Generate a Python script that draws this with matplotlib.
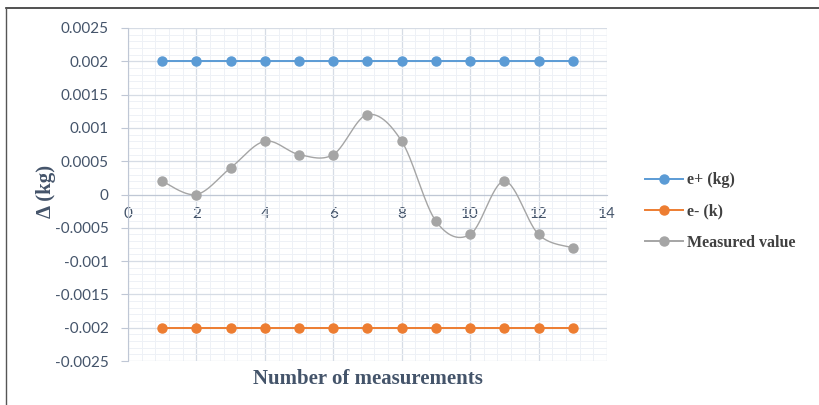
import numpy as np
import matplotlib.pyplot as plt
from matplotlib.lines import Line2D
from matplotlib.ticker import MultipleLocator

# data
n = [1, 2, 3, 4, 5, 6, 7, 8, 9, 10, 11, 12, 13]
e_plus = [0.002] * 13
e_minus = [-0.002] * 13
measured = [0.0002, 0.0, 0.0004, 0.0008, 0.0006, 0.0006, 0.0012,
            0.0008, -0.0004, -0.0006, 0.0002, -0.0006, -0.0008]


def smooth(x, y, steps=30):
    # catmull-rom style curve through the points (like excel's smoothed line)
    x = np.asarray(x, float)
    y = np.asarray(y, float)
    px = np.concatenate([[x[0]], x, [x[-1]]])
    py = np.concatenate([[y[0]], y, [y[-1]]])
    xs, ys = [], []
    t = np.linspace(0, 1, steps)
    for i in range(1, len(px) - 2):
        b0 = np.array([px[i], py[i]])
        b3 = np.array([px[i + 1], py[i + 1]])
        b1 = b0 + (np.array([px[i + 1], py[i + 1]]) - np.array([px[i - 1], py[i - 1]])) / 6
        b2 = b3 - (np.array([px[i + 2], py[i + 2]]) - np.array([px[i], py[i]])) / 6
        pts = ((1 - t) ** 3)[:, None] * b0 + (3 * (1 - t) ** 2 * t)[:, None] * b1 \
            + (3 * (1 - t) * t ** 2)[:, None] * b2 + (t ** 3)[:, None] * b3
        xs.extend(pts[:, 0])
        ys.extend(pts[:, 1])
    return xs, ys


tick_col = "#44546A"
blue, orange, gray = "#5B9BD5", "#ED7D31", "#A5A5A5"

fig = plt.figure(figsize=(8.19, 4.05), dpi=100)
ax = fig.add_axes([0.1563, 0.1086, 0.5848, 0.8223])

ax.set_xlim(0, 14)
ax.set_ylim(-0.0025, 0.0025)
ax.xaxis.set_major_locator(MultipleLocator(2))
ax.xaxis.set_minor_locator(MultipleLocator(0.4))
ax.yaxis.set_major_locator(MultipleLocator(0.0005))
ax.yaxis.set_minor_locator(MultipleLocator(0.0001))
ax.grid(which="major", color="#D6DCE5", lw=0.9)
ax.grid(which="minor", color="#EEF1F6", lw=0.7)
ax.set_axisbelow(True)

ax.plot(n, e_plus, color=blue, lw=1.4, marker="o", ms=6.5, label="e+ (kg)", zorder=3)
ax.plot(n, e_minus, color=orange, lw=1.4, marker="o", ms=6.5, label="e- (k)", zorder=3)
sx, sy = smooth(n, measured)
ax.plot(sx, sy, color=gray, lw=1.0, zorder=3)
ax.plot(n, measured, color=gray, lw=0, marker="o", ms=6.5, zorder=4)

for s in ["top", "right"]:
    ax.spines[s].set_visible(False)
ax.spines["bottom"].set_position(("data", 0))
ax.spines["bottom"].set_color("#BFC7D5")
ax.spines["left"].set_color("#BFC7D5")

yt = [-0.0025, -0.002, -0.0015, -0.001, -0.0005, 0, 0.0005, 0.001, 0.0015, 0.002, 0.0025]
ax.set_yticks(yt)
ax.set_yticklabels(["-0.0025", "-0.002", "-0.0015", "-0.001", "-0.0005", "0",
                    "0.0005", "0.001", "0.0015", "0.002", "0.0025"])
ax.tick_params(axis="both", which="major", labelsize=11, labelcolor=tick_col,
               color="#BFC7D5", length=5)
ax.tick_params(axis="y", which="major", pad=9)
ax.tick_params(axis="x", which="major", length=0, pad=9)
ax.tick_params(which="minor", length=0)
for lab in ax.get_xticklabels() + ax.get_yticklabels():
    lab.set_family("Lato")

ax.set_xlabel("Number of measurements", family="Liberation Serif", weight="bold",
              fontsize=15, color=tick_col)
ax.xaxis.set_label_coords(0.5, -0.025)
ax.set_ylabel("\u0394 (kg)", family="Liberation Serif", weight="bold",
              fontsize=15, color=tick_col)
ax.yaxis.set_label_coords(-0.15, 0.51)

handles = [Line2D([], [], color=blue, lw=1.4, marker="o", ms=6.5),
           Line2D([], [], color=orange, lw=1.4, marker="o", ms=6.5),
           Line2D([], [], color=gray, lw=1.4, marker="o", ms=6.5)]
leg = fig.legend(handles, ["e+ (kg)", "e- (k)", "Measured value"],
                 loc="upper left", bbox_to_anchor=(0.77, 0.61), frameon=False,
                 prop={"family": "Liberation Serif", "weight": "bold", "size": 11.5},
                 handlelength=2.4, handletextpad=0.25, labelspacing=0.95)
for t in leg.get_texts():
    t.set_color("#404040")

# frame lines of the original screenshot
fig.add_artist(Line2D([0.0073, 1.0], [0.980, 0.980], color="#333333", lw=1.2))
fig.add_artist(Line2D([0.0073, 0.0073], [0.0, 0.980], color="#555555", lw=1.0))

fig.savefig("out.png", dpi=100)
